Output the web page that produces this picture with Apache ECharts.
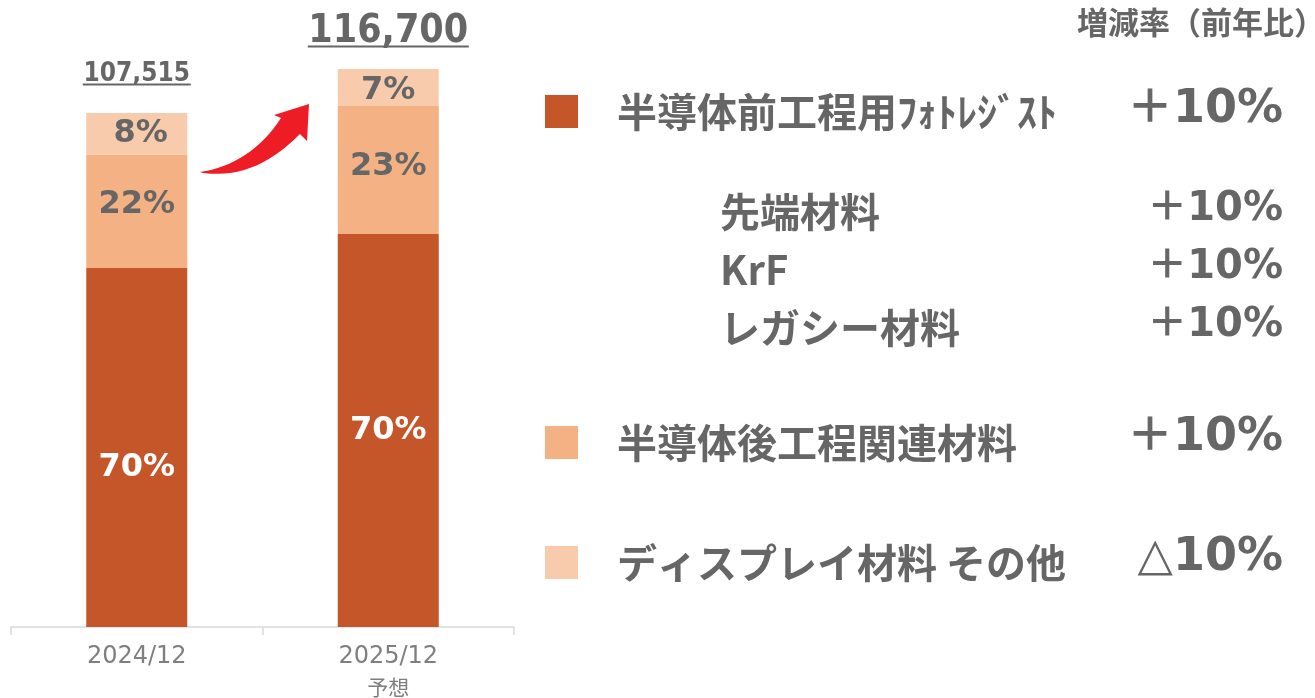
<!DOCTYPE html>
<html>
<head>
<meta charset="utf-8">
<title>売上構成</title>
<script src="https://cdn.jsdelivr.net/npm/echarts@6.0.0/dist/echarts.min.js"></script>
<style>
  html, body { margin: 0; padding: 0; background: #fff; }
  #main { width: 1315px; height: 698px; }
</style>
</head>
<body>
<div id="main"></div>
<script>
// 棒グラフのデータ
var categories = ['2024/12', '2025/12'];
var categorySub = ['', '予想'];
var frontValues = [75100, 82200];     // 半導体前工程用フォトレジスト
var backValues = [23700, 26760];      // 半導体後工程関連材料
var displayValues = [8715, 7740];     // ディスプレイ材料 その他
var frontShare = ['70%', '70%'];
var backShare = ['22%', '23%'];
var displayShare = ['8%', '7%'];
var totals = ['107,515', '116,700'];

// 右側の説明
var itemNames = ['半導体前工程用ﾌｫﾄﾚｼﾞｽﾄ', '半導体後工程関連材料', 'ディスプレイ材料 その他'];
var itemRates = ['＋10%', '＋10%', '△10%'];
var subNames = ['先端材料', 'KrF', 'レガシー材料'];
var subRates = ['＋10%', '＋10%', '＋10%'];
var rateTitle = '増減率（前年比）';

var colors = ['#c4562a', '#f4b183', '#f8cbad'];
var textGray = '#666666';
var numFont = "'DejaVu Sans', 'Noto Sans CJK JP'";
var jpFont = "'Noto Sans CJK JP', 'Noto Sans CJK SC'";

var myChart = echarts.init(document.getElementById('main'));

function shareLabel (color) {
  return {
    show: true,
    position: 'inside',
    fontSize: 32,
    fontWeight: 'bold',
    fontFamily: numFont,
    color: color,
    formatter: function (p) { return p.data.share; }
  };
}

function buildItems (values, shares, offsets) {
  var out = [];
  for (var i = 0; i < values.length; i++) {
    var item = { value: values[i], share: shares[i] };
    if (offsets && offsets[i]) item.label = { offset: offsets[i] };
    out.push(item);
  }
  return out;
}

// 3次ベジェ曲線の点列（矢印の輪郭用）
function bezierPts (p0, p1, p2, p3) {
  var pts = [];
  for (var k = 0; k <= 16; k++) {
    var t = k / 16, u = 1 - t;
    pts.push([
      u * u * u * p0[0] + 3 * u * u * t * p1[0] + 3 * u * t * t * p2[0] + t * t * t * p3[0],
      u * u * u * p0[1] + 3 * u * u * t * p1[1] + 3 * u * t * t * p2[1] + t * t * t * p3[1]
    ]);
  }
  return pts;
}

// 合計（下線付き）
var totalSizes = [26, 39];
var totalLines = [108, 161];
var totalDist = [27, 21];
var totalItems = [];
for (var i = 0; i < totals.length; i++) {
  totalItems.push({
    value: 0,
    label: {
      show: true,
      position: 'top',
      distance: totalDist[i],
      formatter: '{t|' + totals[i] + '}\n{u| }',
      rich: {
        t: {
          fontSize: totalSizes[i],
          fontWeight: 'bold',
          fontFamily: "'DejaVu Sans Condensed', 'DejaVu Sans'",
          color: textGray,
          lineHeight: totalSizes[i] * 0.7
        },
        u: {
          width: totalLines[i],
          height: 2,
          lineHeight: 3,
          backgroundColor: textGray
        }
      }
    }
  });
}

// 右側のテキスト
var graphics = [];
graphics.push({
  type: 'text', x: 1077, y: 22,
  style: { text: rateTitle, font: 'bold 31px ' + jpFont, fill: textGray, verticalAlign: 'middle' }
});
var itemY = [112, 443, 563];
var rateY = [110, 438, 558];
for (var i = 0; i < itemNames.length; i++) {
  graphics.push({
    type: 'rect',
    shape: { x: 545, y: itemY[i] - 17, width: 33, height: 33 },
    style: { fill: colors[i] }
  });
  graphics.push({
    type: 'text', x: 617, y: itemY[i],
    style: { text: itemNames[i], font: 'bold 40px ' + jpFont, fill: textGray, verticalAlign: 'middle' }
  });
  graphics.push({
    type: 'text', x: 1283, y: rateY[i],
    style: { text: itemRates[i], font: 'bold 46px ' + numFont, fill: textGray, align: 'right', verticalAlign: 'middle' }
  });
}
var subY = [212, 270, 328];
for (var i = 0; i < subNames.length; i++) {
  graphics.push({
    type: 'text', x: 720, y: subY[i],
    style: { text: subNames[i], font: 'bold 40px ' + jpFont, fill: textGray, verticalAlign: 'middle' }
  });
  graphics.push({
    type: 'text', x: 1283, y: subY[i] - 2,
    style: { text: subRates[i], font: 'bold 40px ' + numFont, fill: textGray, align: 'right', verticalAlign: 'middle' }
  });
}
// 赤い矢印
var arrowPts = bezierPts([200, 172], [232, 168], [262, 148], [281, 118])
  .concat([[274, 115], [309, 104], [307, 141]])
  .concat(bezierPts([300, 134], [274, 160], [244, 178], [203, 173]));
graphics.push({
  type: 'polygon',
  shape: { points: arrowPts },
  style: { fill: '#ee1c25' }
});

var option = {
  animation: false,
  grid: { left: 11, right: 801, top: 5.5, bottom: 71 },
  xAxis: {
    type: 'category',
    data: categories,
    axisLine: { lineStyle: { color: '#d9d9d9', width: 1.5 } },
    axisTick: { show: true, length: 8, lineStyle: { color: '#d9d9d9', width: 1.5 } },
    axisLabel: {
      margin: 16,
      formatter: function (val, idx) {
        if (categorySub[idx]) return '{a|' + val + '}\n{b|' + categorySub[idx] + '}';
        return '{a|' + val + '}';
      },
      rich: {
        a: { fontSize: 24, fontFamily: "'DejaVu Sans'", color: '#7f7f7f', lineHeight: 28 },
        b: { fontSize: 21, fontFamily: jpFont, color: '#7f7f7f', lineHeight: 32 }
      }
    }
  },
  yAxis: {
    type: 'value',
    min: 0,
    max: 130000,
    show: false,
    splitLine: { show: false }
  },
  series: [
    {
      name: '半導体前工程用フォトレジスト', type: 'bar', stack: 'total', barWidth: 101,
      itemStyle: { color: colors[0] },
      label: shareLabel('#ffffff'),
      data: buildItems(frontValues, frontShare, [[0, 20], null])
    },
    {
      name: '半導体後工程関連材料', type: 'bar', stack: 'total', barWidth: 101,
      itemStyle: { color: colors[1] },
      label: shareLabel(textGray),
      data: buildItems(backValues, backShare, [[0, -7], [0, -3]])
    },
    {
      name: 'ディスプレイ材料 その他', type: 'bar', stack: 'total', barWidth: 101,
      itemStyle: { color: colors[2] },
      label: shareLabel(textGray),
      data: buildItems(displayValues, displayShare, [[4, 0], [0, 3]])
    },
    {
      name: '合計', type: 'bar', stack: 'total', barWidth: 101,
      itemStyle: { color: 'transparent' },
      data: totalItems
    }
  ],
  graphic: graphics
};

myChart.setOption(option);
</script>
</body>
</html>
